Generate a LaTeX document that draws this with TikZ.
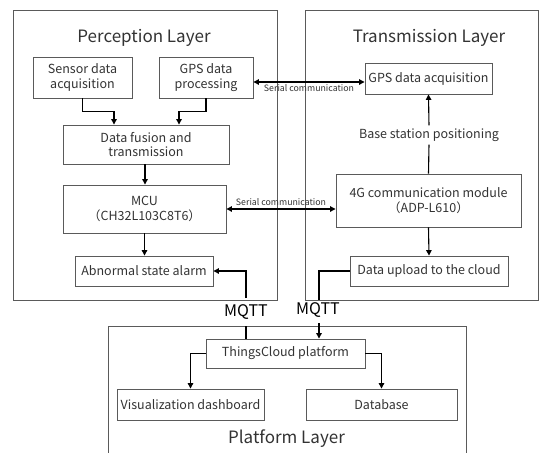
\documentclass[tikz,border=0pt]{standalone}
\usepackage{fontspec}
\setmainfont{Noto Sans CJK SC}
\usetikzlibrary{arrows.meta,calc}
\definecolor{boxline}{HTML}{5A5A5A}
\definecolor{txt}{HTML}{333333}
\tikzset{
  layer/.style={draw=boxline, line width=0.9pt},
  blk/.style={draw=boxline, line width=0.9pt, fill=white, text=txt, font=\fontsize{12.5}{14.5}\selectfont, align=center, inner sep=1pt},
  title/.style={text=txt, font=\fontsize{17}{19}\selectfont, inner sep=0pt},
  small/.style={text=txt, font=\fontsize{8.8}{10}\selectfont, inner sep=1pt},
  mqtt/.style={text=black, font=\fontsize{16}{18}\selectfont, inner sep=0pt},
  arr/.style={draw=black, line width=1.1pt, -{Triangle[length=5.5pt,width=5.5pt]}},
  biarr/.style={draw=black, line width=1.1pt, {Triangle[length=5.5pt,width=5.5pt]}-{Triangle[length=5.5pt,width=5.5pt]}},
  ln/.style={draw=black, line width=1.1pt},
}
\begin{document}
\begin{tikzpicture}[x=1pt,y=-1pt]
\fill[white] (0,0) rectangle (539,453);
\useasboundingbox (0,0) rectangle (539,453);
% layers
\draw[layer] (13,10) rectangle (277,300);
\draw[layer] (305,10) rectangle (538,300);
\draw[layer] (466,460) -- (466,326) -- (108,326) -- (108,460);
\node[title] (tperc) at (144,38) {Perception Layer};
\node[title] (ttrans) at (429,38) {Transmission Layer};
\node[title] (tplat) at (286.5,439) {Platform Layer};
% perception nodes
\node[blk, minimum width=99pt, minimum height=41pt] (sensor) at (82.5,77.5) {Sensor data\\acquisition};
\node[blk, minimum width=94pt, minimum height=41pt] (gpsproc) at (206,77.5) {GPS data\\processing};
\node[blk, minimum width=166pt, minimum height=39pt] (fusion) at (146,144.5) {Data fusion and\\transmission};
\node[blk, minimum width=163pt, minimum height=48pt] (mcu) at (144.5,209) {MCU\\（CH32L103C8T6）};
\node[blk, minimum width=138pt, minimum height=30pt] (alarm) at (144,271) {Abnormal state alarm};
% transmission nodes
\node[blk, minimum width=127pt, minimum height=31pt] (gpsacq) at (428.5,78.5) {GPS data acquisition};
\node[blk, minimum width=185pt, minimum height=53pt] (fourg) at (428.5,200.5) {4G communication module\\（ADP-L610）};
\node[blk, minimum width=158pt, minimum height=30pt] (upload) at (429,271) {Data upload to the cloud};
\node[text=txt, font=\fontsize{12.5}{14.5}\selectfont, inner sep=3pt] (base) at (429,135) {Base station positioning};
% platform nodes
\node[blk, minimum width=159pt, minimum height=29pt] (tc) at (285.5,353.5) {ThingsCloud platform};
\node[blk, minimum width=147pt, minimum height=31pt] (vis) at (190.5,404.5) {Visualization dashboard};
\node[blk, minimum width=151pt, minimum height=31pt] (db) at (381.5,404.5) {Database};
% MQTT labels
\node[mqtt] (mq1) at (246,312) {MQTT};
\node[mqtt] (mq2) at (318,310) {MQTT};
% perception arrows
\draw[arr] (sensor.south) -- ++(0,13) -| ([xshift=-32pt]fusion.north);
\draw[arr] (gpsproc.south) -- ++(0,13) -| ([xshift=33pt]fusion.north);
\draw[arr] ([xshift=-1pt]fusion.south) -- ([xshift=-1pt]fusion.south |- mcu.north);
\draw[arr] (mcu.south) -- (mcu.south |- alarm.north);
% serial communication
\draw[biarr] ([yshift=-4.5pt]gpsproc.east) -- ([yshift=-4.5pt]gpsproc.east -| gpsacq.west)
  node[small, midway, below=0.5pt] (s1) {Serial communication};
\draw[biarr] (mcu.east) -- (mcu.east -| fourg.west)
  node[small, midway, above=1.5pt] (s2) {Serial communication};
% transmission arrows
\draw[ln] (fourg.north) -- (base.south);
\draw[arr] (base.north) -- (gpsacq.south);
\draw[arr] (fourg.south) -- (upload.north);
% MQTT connections
\coordinate (m1top) at (246,298);
\coordinate (m1bot) at (246,326);
\draw[arr] (m1top) |- (alarm.east);
\draw[ln] (m1bot) -- (tc.north -| m1bot);
\coordinate (m2top) at (319,300);
\coordinate (m2bot) at (319,323);
\draw[ln] (upload.west) -| (m2top);
\draw[arr] (m2bot) -- (tc.north -| m2bot);
% platform arrows
\draw[arr] (tc.west) -| (vis.north);
\draw[arr] (tc.east) -| (db.north);
\end{tikzpicture}
\end{document}
